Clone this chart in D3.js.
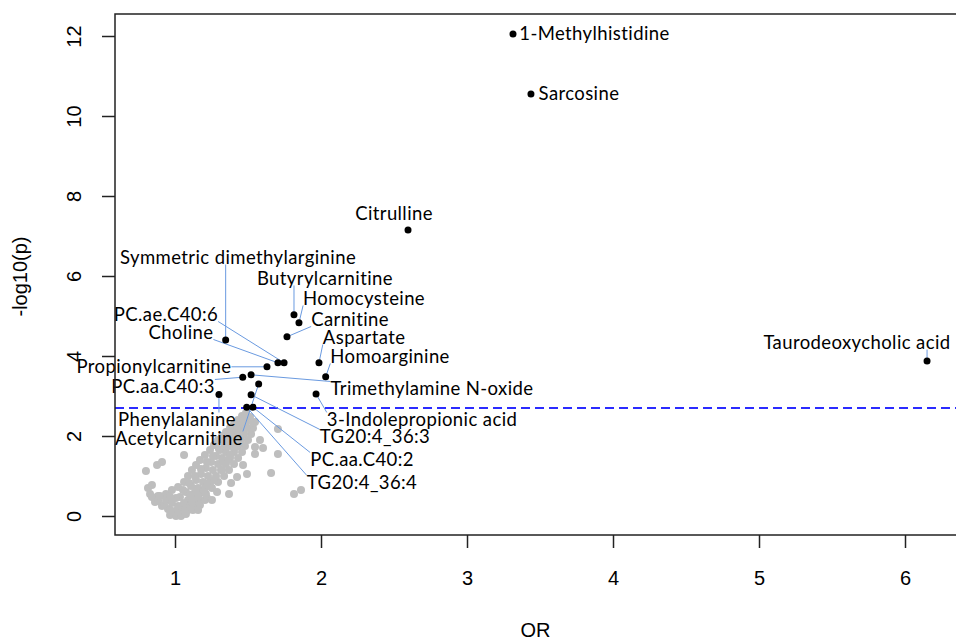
<!DOCTYPE html>
<html>
<head>
<meta charset="utf-8">
<script src="https://cdn.jsdelivr.net/npm/d3@7/dist/d3.min.js"></script>
<style>
    body { margin: 0; background: #ffffff; }
    svg { display: block; }
    .lab { font-family: Lato, "Noto Sans", sans-serif; font-size: 18.5px; letter-spacing: 0.4px; fill: #000; }
    .ax text { font-family: "Liberation Sans", Arial, sans-serif; font-size: 20px; fill: #000; }
</style>
</head>
<body>
<svg id="volcano" width="956" height="643"></svg>
<script>
// Labelled (significant) metabolites
const hitNames = [
    "1-Methylhistidine", "Sarcosine", "Citrulline", "Taurodeoxycholic acid",
    "Symmetric dimethylarginine", "Butyrylcarnitine", "Homocysteine", "PC.ae.C40:6",
    "Carnitine", "Choline", "Aspartate", "Homoarginine", "Propionylcarnitine",
    "Trimethylamine N-oxide", "PC.aa.C40:3", "3-Indolepropionic acid", "Phenylalanine",
    "TG20:4_36:3", "Acetylcarnitine", "PC.aa.C40:2", "TG20:4_36:4"
];
const hitOR = [
    3.315, 3.438, 2.596, 6.151,
    1.347, 1.815, 1.849, 1.747,
    1.767, 1.705, 1.986, 2.032, 1.630,
    1.521, 1.464, 1.966, 1.301,
    1.521, 1.573, 1.534, 1.491
];
const hitLogP = [
    12.05, 10.55, 7.15, 3.875,
    4.40, 5.03, 4.83, 3.83,
    4.48, 3.83, 3.83, 3.48, 3.73,
    3.53, 3.47, 3.05, 3.04,
    3.03, 3.30, 2.72, 2.72
];

// where the repelled labels ended up (centre of text, data units)
const labelOR = [
    3.873, 3.767, 2.500, 5.671,
    1.432, 2.027, 2.295, 0.938,
    2.199, 1.041, 2.295, 2.473, 0.856,
    2.760, 0.918, 2.692, 1.014,
    2.370, 1.027, 2.281, 2.281
];
const labelLogP = [
    12.05, 10.55, 7.55, 4.325,
    6.45, 5.925, 5.425, 5.025,
    4.90, 4.575, 4.45, 3.975, 3.725,
    3.175, 3.225, 2.40, 2.40,
    1.975, 1.925, 1.40, 0.825
];

// everything else (grey cloud)
const restOR = [
    0.829, 0.884, 0.938, 0.979, 1.021, 1.062, 1.089, 1.116, 1.144, 1.171, 1.205,
    1.240, 1.267, 1.295, 1.322, 1.349, 1.377, 1.404, 1.432, 1.459, 1.486,
    0.863, 0.911, 0.952, 1.000, 1.048, 1.089, 1.123, 1.158, 1.192, 1.226,
    1.260, 1.295, 1.322, 1.349, 1.377, 1.404, 1.432, 1.459, 1.486, 1.514,
    0.966, 1.007, 1.048, 1.089, 1.130, 1.171, 1.212, 1.253, 1.295, 1.336,
    1.370, 1.404, 1.432, 1.459, 1.479, 1.500, 1.521, 1.534, 1.548,
    0.815, 0.842, 0.884, 0.925, 0.966, 1.021, 1.068,
    1.034, 1.075, 1.110, 1.144, 1.178, 1.212, 1.247, 1.281, 1.308, 1.342,
    1.370, 1.397, 1.425, 1.452, 1.479,
    1.055, 1.096, 1.137, 1.178, 1.219, 1.260, 1.301, 1.342, 1.384, 1.425, 1.466,
    1.130, 1.164, 1.205, 1.240, 1.281, 1.315, 1.349, 1.377, 1.404, 1.432,
    1.452, 1.473, 1.493,
    0.897, 0.938, 0.979, 1.021, 1.062, 1.103, 1.041, 1.075, 1.123, 1.171, 1.205,
    1.103, 1.144, 1.192, 1.240, 1.267, 1.007, 0.966, 1.116, 1.158, 1.219,
    1.329, 1.377, 1.418, 1.445, 1.363,
    0.801, 0.877, 0.911, 1.062, 0.842, 1.219, 1.288, 1.370, 1.425, 1.493,
    1.658, 1.548, 1.603, 1.548, 1.705, 1.705, 1.815, 1.863, 1.534, 1.582,
    1.384, 1.466, 1.322, 1.158, 1.253
];
const restLogP = [
    0.55, 0.50, 0.55, 0.65, 0.725, 0.85, 1.00, 1.15, 1.275, 1.40, 1.525,
    1.65, 1.775, 1.90, 2.00, 2.10, 2.20, 2.30, 2.40, 2.50, 2.575,
    0.35, 0.25, 0.175, 0.125, 0.25, 0.40, 0.55, 0.70, 0.85, 1.00,
    1.15, 1.30, 1.45, 1.60, 1.75, 1.90, 2.05, 2.20, 2.35, 2.475,
    0.025, 0.00, 0.05, 0.15, 0.275, 0.40, 0.55, 0.70, 0.85, 1.00,
    1.15, 1.30, 1.45, 1.60, 1.75, 1.90, 2.05, 2.20, 2.35,
    0.70, 0.475, 0.375, 0.275, 0.15, 0.10, 0.15,
    0.475, 0.60, 0.75, 0.90, 1.05, 1.20, 1.35, 1.50, 1.65, 1.775,
    1.90, 2.05, 2.20, 2.35, 2.45,
    0.65, 0.825, 1.00, 1.175, 1.35, 1.50, 1.675, 1.85, 2.00, 2.175, 2.375,
    0.40, 0.55, 0.70, 0.85, 1.00, 1.15, 1.30, 1.45, 1.60, 1.75,
    1.90, 2.05, 2.20,
    0.50, 0.40, 0.325, 0.25, 0.325, 0.225, 0.00, 0.05, 0.15, 0.275, 0.40,
    0.525, 0.65, 0.60, 0.75, 0.90, 0.45, 0.475, 0.35, 0.50, 0.80,
    1.35, 1.525, 1.725, 1.975, 1.40,
    1.125, 1.275, 1.35, 1.525, 0.775, 0.45, 0.60, 0.55, 0.975, 1.05,
    1.075, 1.725, 1.70, 1.55, 2.175, 1.55, 0.55, 0.65, 2.325, 1.90,
    0.825, 1.275, 1.15, 0.15, 0.40
];

const xTicks = [1, 2, 3, 4, 5, 6];
const yTicks = [0, 2, 4, 6, 8, 10, 12];
const pCutoff = 2.7;   // -log10(p) threshold line

// plot region (box edges in px)
const box = { left: 115, right: 958, top: 14, bottom: 535 };

function leaderStart(bb, px, py){
    // nearest point of the (slightly shrunk) label box to the dot
    var x = Math.max(bb.x, Math.min(px, bb.x + bb.width));
    var y = Math.max(bb.y + 4, Math.min(py, bb.y + bb.height - 4));
    return [x, y];
}

function drawVolcano(){
    var svg = d3.select("#volcano");

    var x = d3.scaleLinear()
        .domain([0.589, 6.363])
        .range([box.left, box.right]);

    var y = d3.scaleLinear()
        .domain([-0.475, 12.55])
        .range([box.bottom, box.top]);

    // grey cloud first
    svg.append("g")
        .selectAll("circle")
        .data(d3.range(restOR.length))
        .enter()
        .append("circle")
            .attr("cx", i => x(restOR[i]))
            .attr("cy", i => y(restLogP[i]))
            .attr("r", 4)
            .attr("fill", "#bebebe");

    // threshold
    svg.append("line")
        .attr("x1", box.left)
        .attr("x2", box.right)
        .attr("y1", y(pCutoff))
        .attr("y2", y(pCutoff))
        .attr("stroke", "#2b2bff")
        .attr("stroke-width", 2)
        .attr("stroke-dasharray", "9,5");

    // labels (placed first so leaders can be measured off them)
    var segG = svg.append("g");
    var labG = svg.append("g");
    var labels = labG.selectAll("text")
        .data(d3.range(hitNames.length))
        .enter()
        .append("text")
            .attr("class", "lab")
            .attr("x", i => x(labelOR[i]))
            .attr("y", i => y(labelLogP[i]))
            .attr("dy", "0.35em")
            .attr("text-anchor", "middle")
            .text(i => hitNames[i]);

    labels.each(function(i){
        var bb = this.getBBox();
        var px = x(hitOR[i]), py = y(hitLogP[i]);
        var s = leaderStart(bb, px, py);
        var dist = Math.hypot(px - s[0], py - s[1]);
        if (dist < 10) return;   // too close, ggrepel would skip it
        segG.append("line")
            .attr("x1", s[0])
            .attr("y1", s[1])
            .attr("x2", px)
            .attr("y2", py)
            .attr("stroke", "#6a9ae0")
            .attr("stroke-width", 1);
    });

    // black dots
    svg.append("g")
        .selectAll("circle")
        .data(d3.range(hitNames.length))
        .enter()
        .append("circle")
            .attr("cx", i => x(hitOR[i]))
            .attr("cy", i => y(hitLogP[i]))
            .attr("r", 3.5)
            .attr("fill", "#000");

    // frame
    svg.append("rect")
        .attr("x", box.left)
        .attr("y", box.top)
        .attr("width", box.right - box.left)
        .attr("height", box.bottom - box.top)
        .attr("fill", "none")
        .attr("stroke", "#222")
        .attr("stroke-width", 1.5);

    // axes, R style (ticks outside, labels a line away)
    var xAxis = svg.append("g")
        .attr("class", "ax")
        .attr("transform", "translate(0," + box.bottom + ")")
        .call(d3.axisBottom(x).tickValues(xTicks).tickSize(13).tickPadding(23).tickFormat(d3.format("d")));
    xAxis.select(".domain").remove();
    xAxis.selectAll("line").attr("stroke", "#222").attr("stroke-width", 1.5);

    var yAxis = svg.append("g")
        .attr("class", "ax")
        .attr("transform", "translate(" + box.left + ",0)")
        .call(d3.axisLeft(y).tickValues(yTicks).tickSize(13).tickFormat(d3.format("d")));
    yAxis.select(".domain").remove();
    yAxis.selectAll("line").attr("stroke", "#222").attr("stroke-width", 1.5);
    // R leaves y labels parallel to the axis
    yAxis.selectAll("text")
        .attr("x", 0)
        .attr("y", 0)
        .attr("dy", "0.35em")
        .attr("text-anchor", "middle")
        .attr("transform", "translate(-41,0) rotate(-90)");

    // axis titles
    svg.append("text")
        .attr("x", (box.left + box.right) / 2 - 1)
        .attr("y", 637)
        .attr("text-anchor", "middle")
        .style("font-family", "'Liberation Sans', Arial, sans-serif")
        .style("font-size", "20px")
        .text("OR");

    svg.append("text")
        .attr("transform", "translate(27," + ((box.top + box.bottom) / 2 + 2) + ") rotate(-90)")
        .attr("text-anchor", "middle")
        .style("font-family", "'Liberation Sans', Arial, sans-serif")
        .style("font-size", "20px")
        .text("-log10(p)");
}

drawVolcano();
</script>
</body>
</html>
